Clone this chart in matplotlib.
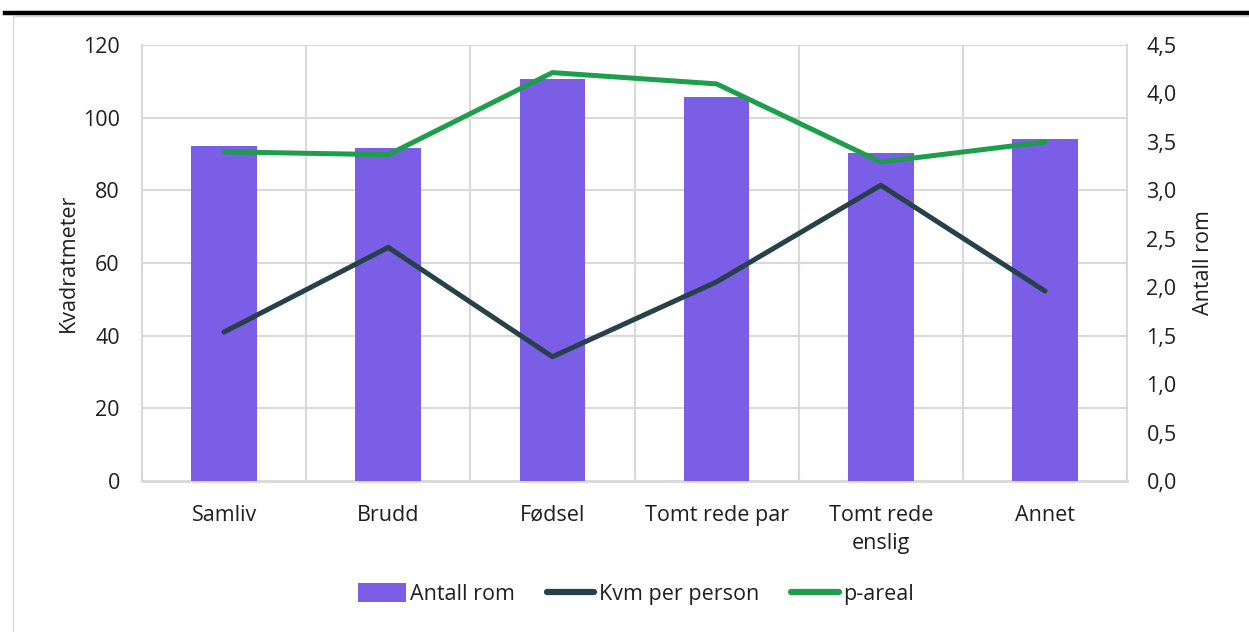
import matplotlib
matplotlib.use("Agg")
import matplotlib.pyplot as plt
from matplotlib.lines import Line2D
from matplotlib.patches import Patch, Rectangle
from matplotlib.ticker import FuncFormatter, FixedLocator

plt.rcParams["font.family"] = ["Open Sans", "DejaVu Sans"]

categories = ["Samliv", "Brudd", "Fødsel", "Tomt rede par", "Tomt rede\nenslig", "Annet"]
antall_rom = [3.46, 3.44, 4.15, 3.96, 3.39, 3.53]
kvm_per_person = [41.0, 64.3, 34.2, 54.8, 81.4, 52.3]
p_areal = [90.6, 89.8, 112.4, 109.3, 87.8, 93.3]

left_ticks = [0, 20, 40, 60, 80, 100, 120]
right_ticks = [0, 0.5, 1.0, 1.5, 2.0, 2.5, 3.0, 3.5, 4.0, 4.5]

BAR = "#7B5EE6"
DARK = "#26414A"
GREEN = "#1C9E4A"
GRID = "#D9D9D9"
TXT = "#1F1F1F"
FS = 15.5

fig = plt.figure(figsize=(12.49, 6.32), dpi=100)

# outer frame and top rule
fig.patches.append(Rectangle((13 / 1249, -0.05), 1.1, 1 - 16 / 632 + 0.05,
                             transform=fig.transFigure, fill=False,
                             edgecolor=GRID, linewidth=1.0))
fig.add_artist(Line2D([5 / 1249, 1], [1 - 12.5 / 632] * 2, transform=fig.transFigure,
                      color="black", linewidth=3.2))

ax = fig.add_axes([142 / 1249, 151 / 632, 985 / 1249, 436 / 632])
x = list(range(len(categories)))

# grid axis (left scale)
ax.set_xlim(-0.5, len(categories) - 0.5)
ax.set_ylim(0, 120)
ax.set_yticks(left_ticks)
ax.set_xticks(x)
ax.set_xticklabels(categories, fontsize=FS, color=TXT, linespacing=1.45)
ax.xaxis.set_minor_locator(FixedLocator([i + 0.5 for i in x[:-1]]))
ax.grid(axis="y", color=GRID, linewidth=1.5)
ax.grid(axis="x", which="minor", color=GRID, linewidth=1.5)
ax.tick_params(axis="both", which="both", length=0, labelsize=FS, labelcolor=TXT)
ax.tick_params(axis="x", pad=17)
ax.tick_params(axis="y", pad=16)
for side in ["left", "right", "bottom"]:
    ax.spines[side].set_color(GRID)
    ax.spines[side].set_linewidth(1.5)
ax.spines["top"].set_visible(False)
ax.spines["bottom"].set_linewidth(2)
ax.set_ylabel("Kvadratmeter", fontsize=FS, color=TXT, labelpad=3)

# bars (right scale)
ax2 = ax.twinx()
ax2.bar(x, antall_rom, width=0.4, color=BAR, zorder=2)
ax2.set_ylim(0, 4.5)
ax2.set_yticks(right_ticks)
ax2.yaxis.set_major_formatter(FuncFormatter(lambda v, _: f"{v:.1f}".replace(".", ",")))
ax2.tick_params(axis="y", length=0, labelsize=FS, labelcolor=TXT, pad=14)
for s in ax2.spines.values():
    s.set_visible(False)
ax2.set_ylabel("Antall rom", fontsize=FS, color=TXT, labelpad=12)

# lines (left scale) drawn on top
ax3 = ax.twinx()
ax3.set_ylim(0, 120)
ax3.plot(x, kvm_per_person, color=DARK, linewidth=3.6, solid_capstyle="round")
ax3.plot(x, p_areal, color=GREEN, linewidth=3.6, solid_capstyle="round")
ax3.set_yticks([])
for s in ax3.spines.values():
    s.set_visible(False)

handles = [
    Patch(facecolor=BAR, edgecolor="none"),
    Line2D([], [], color=DARK, linewidth=4.5, solid_capstyle="round"),
    Line2D([], [], color=GREEN, linewidth=4.5, solid_capstyle="round"),
]
fig.legend(handles, ["Antall rom", "Kvm per person", "p-areal"], loc="center",
           bbox_to_anchor=(636 / 1249, 1 - 594 / 632), ncol=3, frameon=False,
           fontsize=FS, handlelength=2.2, handleheight=0.95, handletextpad=0.2,
           columnspacing=1.5, labelcolor=TXT)

fig.savefig("out.png", dpi=100)
